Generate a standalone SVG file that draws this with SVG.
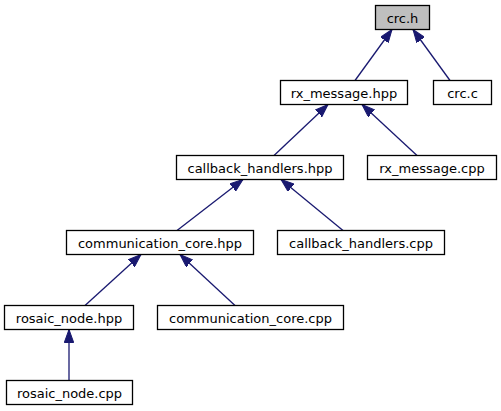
<svg xmlns="http://www.w3.org/2000/svg" width="501" height="411" viewBox="0 0 501 411">
<defs>
<style>
.box{fill:#ffffff;stroke:#000000;stroke-width:1.3}
.root{fill:#bfbfbf;stroke:#000000;stroke-width:1.3}
.lbl{font-family:"DejaVu Sans",sans-serif;font-size:13px;text-anchor:middle;fill:#000000}
.edge{fill:none;stroke:#191970;stroke-width:1.3}
</style>
<marker id="ah" viewBox="0 0 13 10" refX="13" refY="5" markerWidth="13" markerHeight="10" markerUnits="userSpaceOnUse" orient="auto">
<path d="M0,0.3 L13,5 L0,9.7 z" fill="#191970" stroke="#191970" stroke-width="1"/>
</marker>
</defs>
<rect width="501" height="411" fill="#ffffff"/>
<g id="edges">
<path class="edge" d="M355,80.5 L392,29.5" marker-end="url(#ah)"/>
<path class="edge" d="M450,80.5 L413,29.5" marker-end="url(#ah)"/>
<path class="edge" d="M274,155.5 L328,104.5" marker-end="url(#ah)"/>
<path class="edge" d="M417,155.5 L362,104.5" marker-end="url(#ah)"/>
<path class="edge" d="M177,230.5 L243,179.5" marker-end="url(#ah)"/>
<path class="edge" d="M343,230.5 L281,179.5" marker-end="url(#ah)"/>
<path class="edge" d="M85,305.5 L141,254.5" marker-end="url(#ah)"/>
<path class="edge" d="M235,305.5 L180,254.5" marker-end="url(#ah)"/>
<path class="edge" d="M69,380.5 L69,329.5" marker-end="url(#ah)"/>
</g>
<g id="crc_h"><rect class="root" x="375.5" y="5.5" width="54" height="24"/><text class="lbl" x="402.5" y="22.5">crc.h</text></g>
<g id="rx_message_hpp"><rect class="box" x="280.5" y="80.5" width="127" height="24"/><text class="lbl" x="344" y="97.5">rx_message.hpp</text></g>
<g id="crc_c"><rect class="box" x="433.5" y="80.5" width="58" height="24"/><text class="lbl" x="462.5" y="97.5">crc.c</text></g>
<g id="callback_handlers_hpp"><rect class="box" x="176.5" y="155.5" width="167" height="24"/><text class="lbl" x="260" y="172.5">callback_handlers.hpp</text></g>
<g id="rx_message_cpp"><rect class="box" x="367.5" y="155.5" width="129" height="24"/><text class="lbl" x="432" y="172.5">rx_message.cpp</text></g>
<g id="communication_core_hpp"><rect class="box" x="66.5" y="230.5" width="187" height="24"/><text class="lbl" x="160" y="247.5">communication_core.hpp</text></g>
<g id="callback_handlers_cpp"><rect class="box" x="277.5" y="230.5" width="167" height="24"/><text class="lbl" x="361" y="247.5">callback_handlers.cpp</text></g>
<g id="rosaic_node_hpp"><rect class="box" x="4.5" y="305.5" width="129" height="24"/><text class="lbl" x="69" y="322.5">rosaic_node.hpp</text></g>
<g id="communication_core_cpp"><rect class="box" x="157.5" y="305.5" width="186" height="24"/><text class="lbl" x="250.5" y="322.5">communication_core.cpp</text></g>
<g id="rosaic_node_cpp"><rect class="box" x="6.5" y="380.5" width="126" height="24"/><text class="lbl" x="69.5" y="397.5">rosaic_node.cpp</text></g>
</svg>
